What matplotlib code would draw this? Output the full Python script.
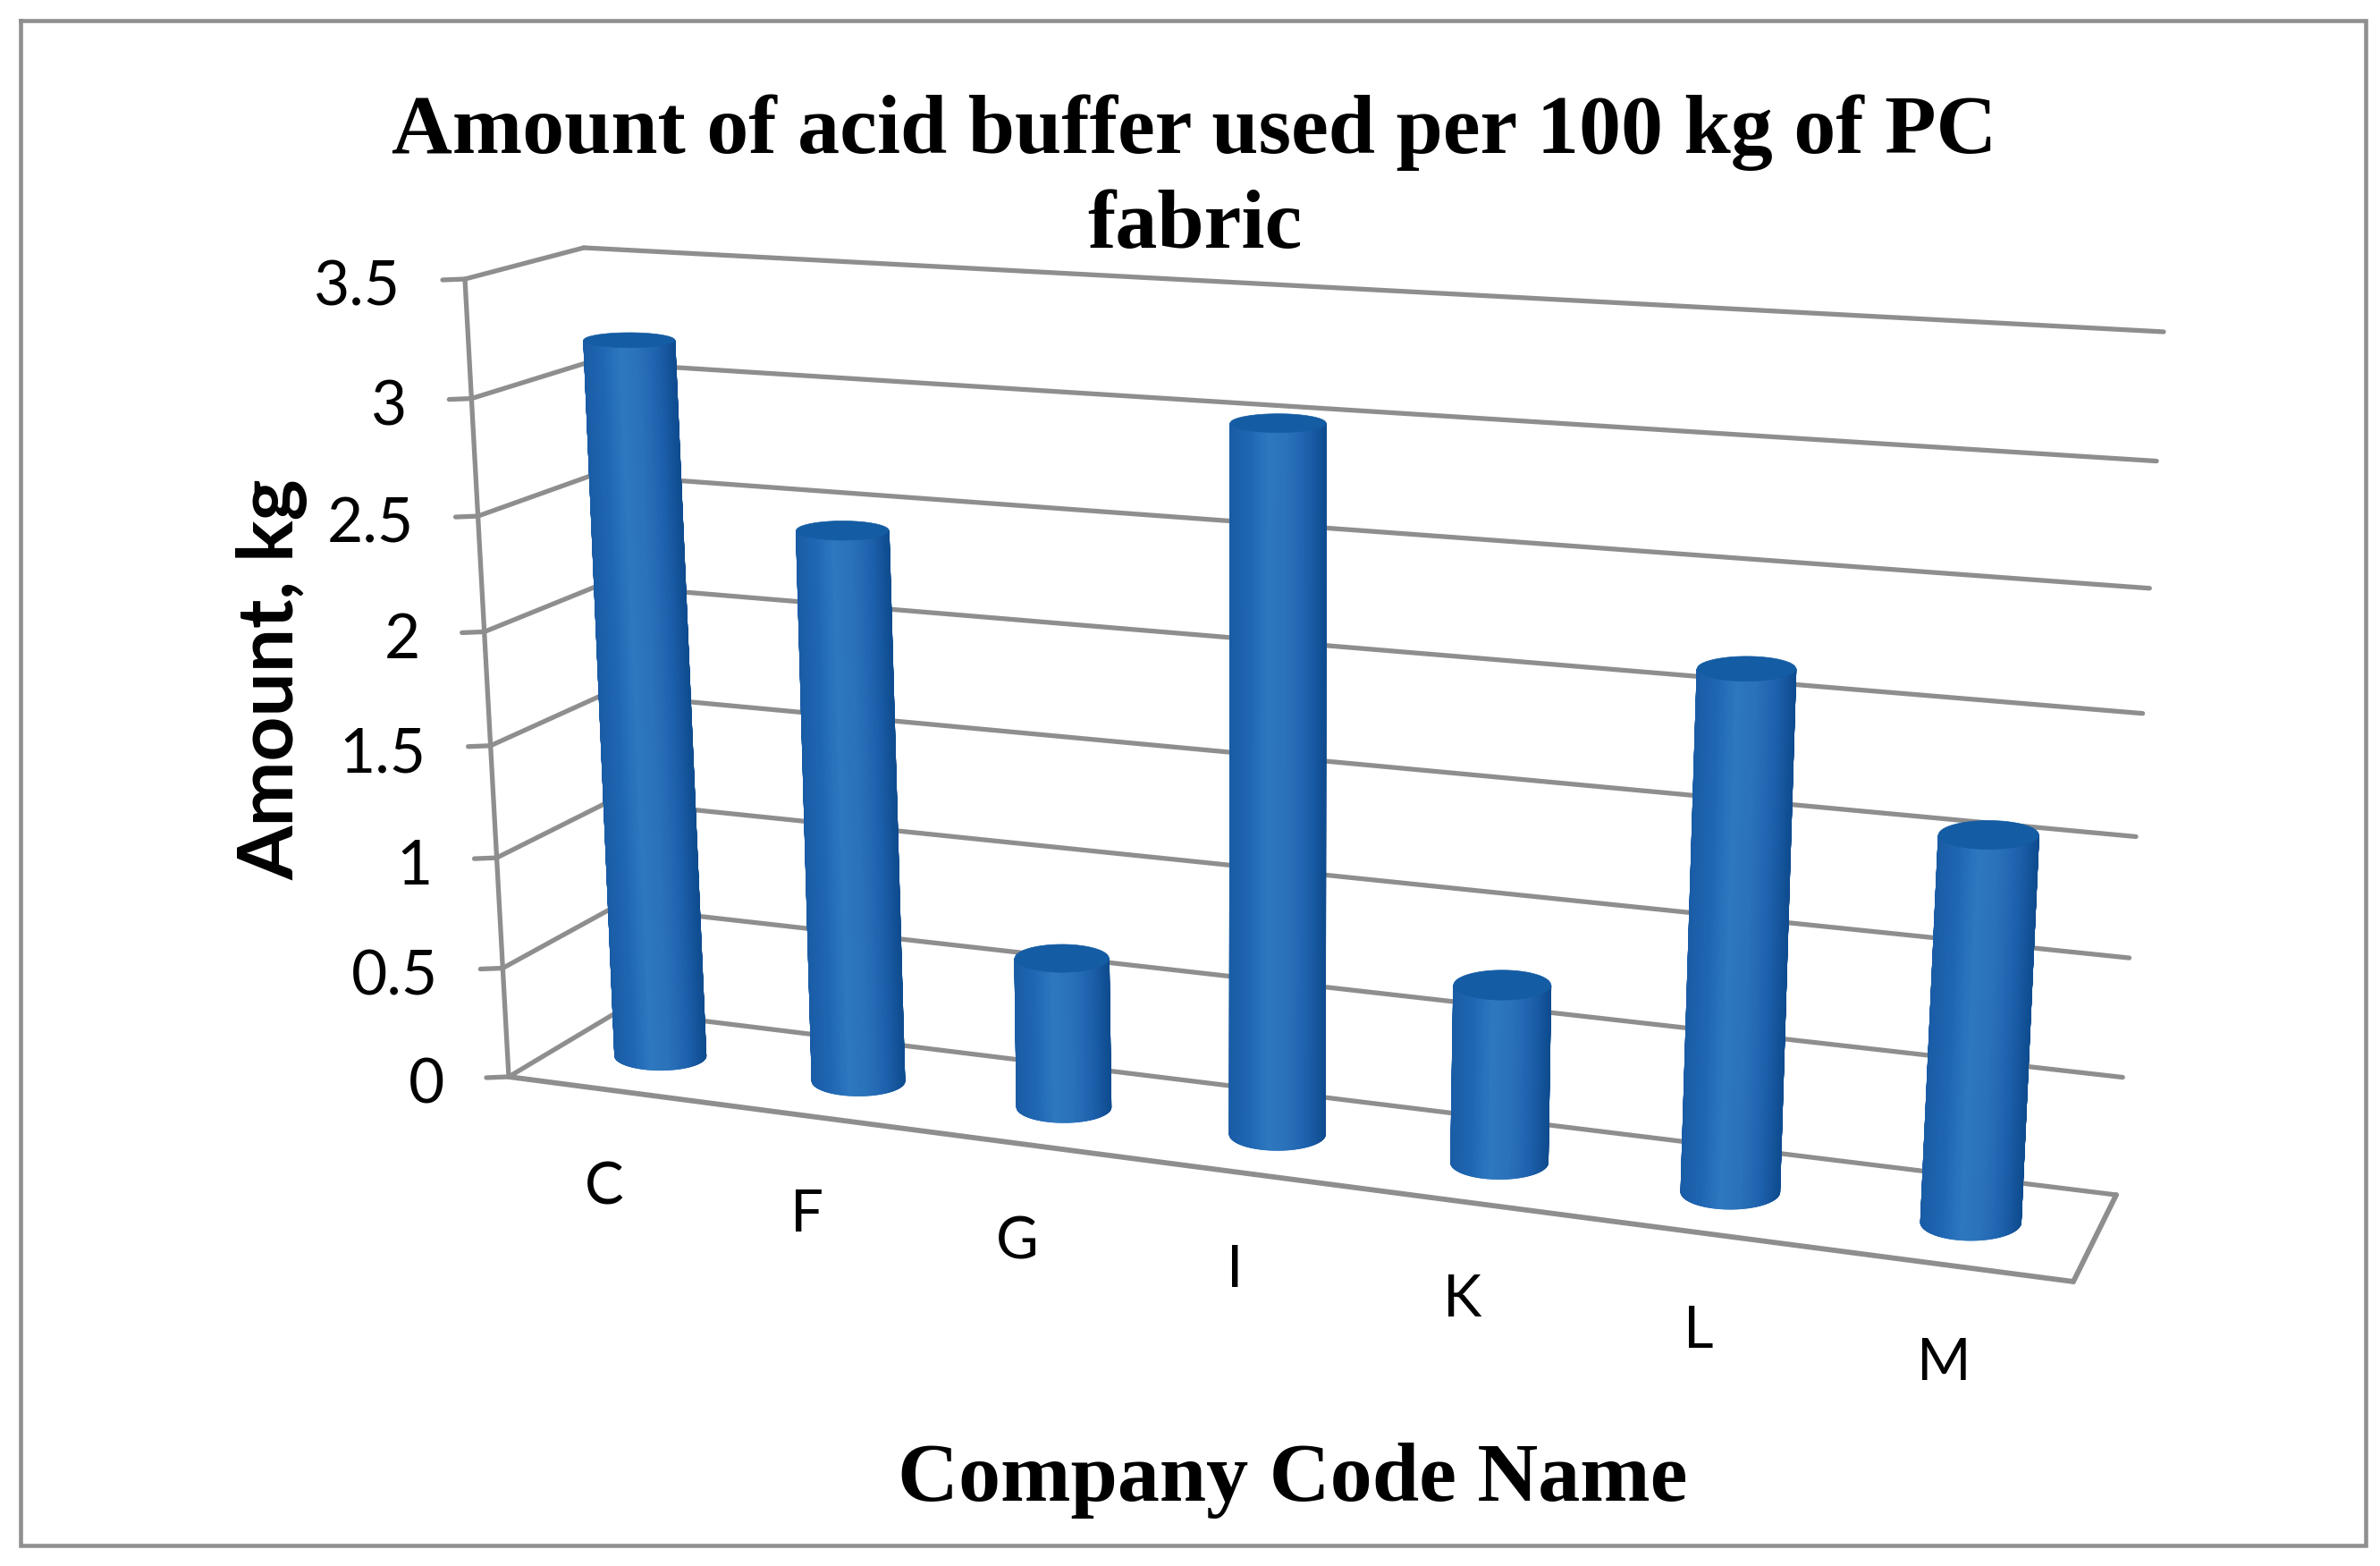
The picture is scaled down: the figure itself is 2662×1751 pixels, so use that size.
import numpy as np
import matplotlib
matplotlib.use("Agg")
import matplotlib.pyplot as plt
from matplotlib.collections import PolyCollection
from matplotlib.colors import LinearSegmentedColormap

categories = ["C", "F", "G", "I", "K", "L", "M"]
values = [3.2, 2.45, 0.67, 3.03, 0.77, 2.18, 1.6]
y_ticks = [0, 0.5, 1, 1.5, 2, 2.5, 3, 3.5]
y_tick_labels = ["0", "0.5", "1", "1.5", "2", "2.5", "3", "3.5"]
title = "Amount of acid buffer used per 100 kg of PC\nfabric"
x_label = "Company Code Name"
y_label = "Amount, kg"

W, H = 2662, 1751
GRID = "#8e8e8e"
CORNERS = {  # (u, s, d) box corners in pixels
    (0, 0, 0): (569, 1204), (0, 1, 0): (520, 312),
    (0, 0, 1): (693, 1130), (0, 1, 1): (653, 277),
    (1, 0, 0): (2319, 1433), (1, 1, 0): (2372, 425),
    (1, 0, 1): (2367, 1336), (1, 1, 1): (2420, 371),
}
WU, WV = 1.146, 1.057
YMAX = 3.5
N = len(categories)


def warp(t, w):
    return t / (t + w * (1 - t))


def project(x, v, d):
    """x: category units (0..N), v: value, d: depth 0 front..1 back."""
    x, v, d = np.broadcast_arrays(np.asarray(x, float), np.asarray(v, float), np.asarray(d, float))
    u = warp(x / N, WU)
    s = warp(v / YMAX, WV)
    out = np.zeros(x.shape + (2,))
    for (a, b, c), p in CORNERS.items():
        wt = (u if a else 1 - u) * (s if b else 1 - s) * (d if c else 1 - d)
        out += wt[..., None] * np.array(p, float)
    return out


fig = plt.figure(figsize=(W / 100, H / 100), dpi=100, facecolor="white")
ax = fig.add_axes([0, 0, 1, 1])
ax.set_xlim(0, W)
ax.set_ylim(H, 0)
ax.axis("off")

# chart border
ax.plot([23, 2646, 2646, 23, 23], [23, 23, 1728, 1728, 23], color="#8f8f8f", lw=3.3,
        solid_joinstyle="miter", zorder=1)


def seg(p, q, lw=3.8):
    ax.plot([p[0], q[0]], [p[1], q[1]], color=GRID, lw=lw, solid_capstyle="round", zorder=2)


# walls, gridlines, ticks
for v, lab in zip(y_ticks, y_tick_labels):
    fl = project(0, v, 0)
    bl = project(0, v, 1)
    br = project(N, v, 1)
    seg(fl, bl)
    seg(bl, br)
    seg((fl[0] - 25, fl[1] + 1), fl, lw=3.8)
    ax.text(fl[0] - 72, fl[1] + 10, lab, ha="right", va="center", fontsize=50,
            family="Lato", color="black", zorder=5)
seg(project(0, 0, 0), project(0, YMAX, 0))
seg(project(0, 0, 0), project(N, 0, 0), lw=4.2)
seg(project(N, 0, 0), project(N, 0, 1), lw=4.2)

# cylinders
cmap = LinearSegmentedColormap.from_list(
    "cyl", ["#1a5ca6", "#1f66b2", "#2e78c0", "#2a72ba", "#1e62ae", "#0f4c90"])
R_PX, R_GROW, R_D = 50.5, 6.0, 0.21
theta = np.linspace(0, 2 * np.pi, 361)[:-1]


def ellipse(cx, v):
    c = project(cx, v, 0.5)
    a = R_PX + R_GROW * cx / N
    b = c[1] - project(cx, v, 0.5 + R_D)[1]
    return np.column_stack([c[0] + a * np.cos(theta), c[1] + b * np.sin(theta)])


for i, val in enumerate(values):
    cx = i + 0.5
    top = ellipse(cx, val)
    bot = ellipse(cx, 0)
    # theta 0..180 is the front (lower on screen) half, running right to left
    idx = np.arange(180, -1, -1)
    polys, cols = [], []
    xs = bot[idx, 0]
    for a, b, xa in zip(idx[:-1], idx[1:], xs[:-1]):
        polys.append([top[a], top[b], bot[b], bot[a]])
        cols.append(cmap((xa - xs.min()) / (xs.max() - xs.min())))
    ax.add_collection(PolyCollection(polys, facecolors=cols, edgecolors=cols, linewidths=0.8, zorder=3))
    ax.fill(top[:, 0], top[:, 1], color="#145ca3", lw=0.5, zorder=4)

    # category label below the front floor edge
    f = project(cx, 0, 0)
    ax.text(f[0] - 3, f[1] + 110, categories[i], ha="center", va="center", fontsize=47,
            family="Lato", color="black", zorder=5)

ax.text(1336, 201, title, ha="center", va="center", fontsize=67.7, fontweight="bold",
        family="Liberation Serif", linespacing=1.32, color="black", zorder=5)
ax.text(1446, 1655, x_label, ha="center", va="center", fontsize=67.8, fontweight="bold",
        family="Liberation Serif", color="black", zorder=5)
ax.text(304, 760, y_label, ha="center", va="center", rotation=90, fontsize=62.7, fontweight="bold",
        family="Lato", color="black", zorder=5)

fig.savefig("out.png", dpi=100, facecolor="white")
